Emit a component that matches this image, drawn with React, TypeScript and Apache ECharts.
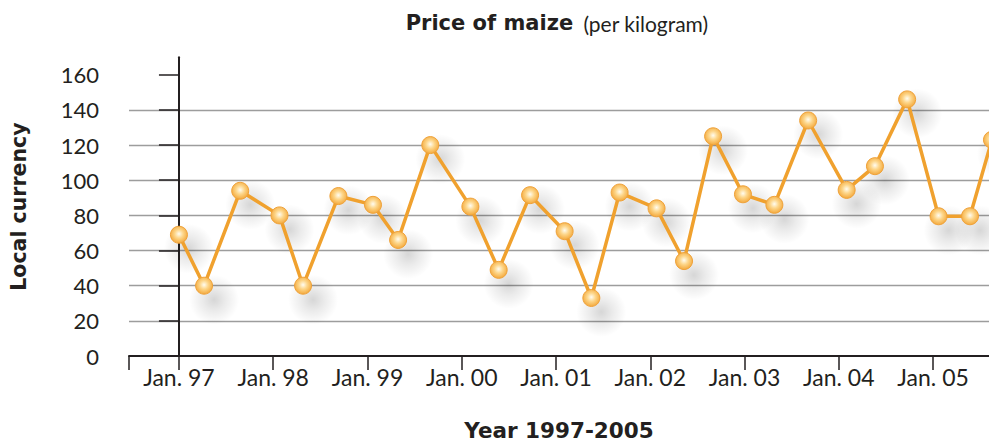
import { useEffect, useRef } from "react";
import * as echarts from "echarts";

// Months counted from January 1997 (0 = Jan. 97)
const months = [0, 3.2, 7.8, 12.8, 15.8, 20.3, 24.7, 27.9, 32, 37.1, 40.7, 44.7, 49.1, 52.5, 56.1, 60.8, 64.3, 68, 71.8, 75.8, 80.1, 85, 88.6, 92.7, 96.7, 100.7, 103.5];
const prices = [69, 40, 94, 80, 40, 91, 86, 66, 120, 85, 49, 91.5, 71, 33, 93, 84, 54, 125, 92, 86, 134, 94.5, 108, 146, 79.5, 79.5, 123];

const yearTicks = [0, 12, 24, 36, 48, 60, 72, 84, 96];
const yearLabels = ["Jan. 97", "Jan. 98", "Jan. 99", "Jan. 00", "Jan. 01", "Jan. 02", "Jan. 03", "Jan. 04", "Jan. 05"];
const priceTicks = [0, 20, 40, 60, 80, 100, 120, 140, 160];

const X_MIN = -6.357;
const X_MAX = 103.12;

const INK = "#231f20";
const BOLD_FONT = "DejaVu Sans";
const REG_FONT = "Lato";

export default function App() {
  const ref = useRef<HTMLDivElement>(null);
  useEffect(() => {
    const chart = echarts.init(ref.current!, null, { renderer: "svg" });
    const points = months.map((m, i) => [m, prices[i]]);
    chart.setOption({
      animation: false,
      backgroundColor: "#ffffff",
      grid: { left: 128, right: 0, top: 57.2, bottom: 87.7, containLabel: false },
      graphic: [
        {
          type: "text",
          x: 557,
          y: 23,
          style: {
            text: "{b|Price of maize}{n|(per kilogram)}",
            align: "center",
            verticalAlign: "middle",
            rich: {
              b: { fontFamily: BOLD_FONT, fontWeight: "bold", fontSize: 21, fill: INK },
              n: { fontFamily: REG_FONT, fontWeight: "normal", fontSize: 21, fill: INK, padding: [0, 0, 0, 10] },
            },
          },
        },
      ],
      xAxis: {
        type: "value",
        min: X_MIN,
        max: X_MAX,
        name: "Year 1997-2005",
        nameLocation: "middle",
        nameGap: 63,
        nameTextStyle: { fontFamily: BOLD_FONT, fontWeight: "bold", fontSize: 21.5, color: INK },
        axisLine: { show: true, onZero: false, lineStyle: { color: INK, width: 2 } },
        axisTick: {
          show: true,
          customValues: [X_MIN, ...yearTicks],
          length: 14,
          lineStyle: { color: INK, width: 1.5 },
        },
        axisLabel: {
          customValues: yearTicks,
          formatter: (v: number) => yearLabels[yearTicks.indexOf(Math.round(v))] ?? "",
          margin: 9,
          fontFamily: REG_FONT,
          fontSize: 23,
          color: INK,
        },
        splitLine: { show: false },
      },
      yAxis: {
        type: "value",
        min: 0,
        max: 170,
        interval: 20,
        name: "Local currency",
        nameLocation: "middle",
        nameGap: 100,
        nameRotate: 90,
        nameTextStyle: { fontFamily: BOLD_FONT, fontWeight: "bold", fontSize: 20.5, color: INK },
        axisLine: { show: true, lineStyle: { color: INK, width: 2 } },
        axisTick: {
          show: true,
          customValues: priceTicks,
          length: 20,
          lineStyle: { color: INK, width: 1.5 },
        },
        axisLabel: {
          customValues: priceTicks,
          margin: 30,
          fontFamily: REG_FONT,
          fontSize: 22,
          color: INK,
        },
        splitLine: {
          show: true,
          showMinLine: false,
          showMaxLine: false,
          lineStyle: { color: "#9d9d9d", width: 1.3 },
        },
      },
      series: [
        {
          type: "scatter",
          data: points,
          clip: false,
          z: 1,
          symbol: "circle",
          symbolSize: 50,
          symbolOffset: [10, 14],
          silent: true,
          itemStyle: {
            color: new echarts.graphic.RadialGradient(0.5, 0.5, 0.5, [
              { offset: 0, color: "rgba(0,0,0,0.2)" },
              { offset: 0.45, color: "rgba(0,0,0,0.1)" },
              { offset: 1, color: "rgba(0,0,0,0)" },
            ]),
          },
          emphasis: { disabled: true },
        },
        {
          type: "line",
          data: points,
          clip: false,
          z: 3,
          symbol: "circle",
          symbolSize: 17,
          showAllSymbol: true,
          lineStyle: { color: "#f0a12e", width: 3.5 },
          itemStyle: {
            color: new echarts.graphic.RadialGradient(0.5, 0.45, 0.55, [
              { offset: 0, color: "#fffcf0" },
              { offset: 0.45, color: "#fdd68a" },
              { offset: 1, color: "#f4a93c" },
            ]),
            borderColor: "#efa23a",
            borderWidth: 1,
          },
          emphasis: { disabled: true },
        },
      ],
    });
    return () => chart.dispose();
  }, []);
  return (
    <div
      ref={ref}
      style={{ position: "absolute", left: 0, top: 0, width: 989, height: 446, background: "#fff" }}
    />
  );
}
